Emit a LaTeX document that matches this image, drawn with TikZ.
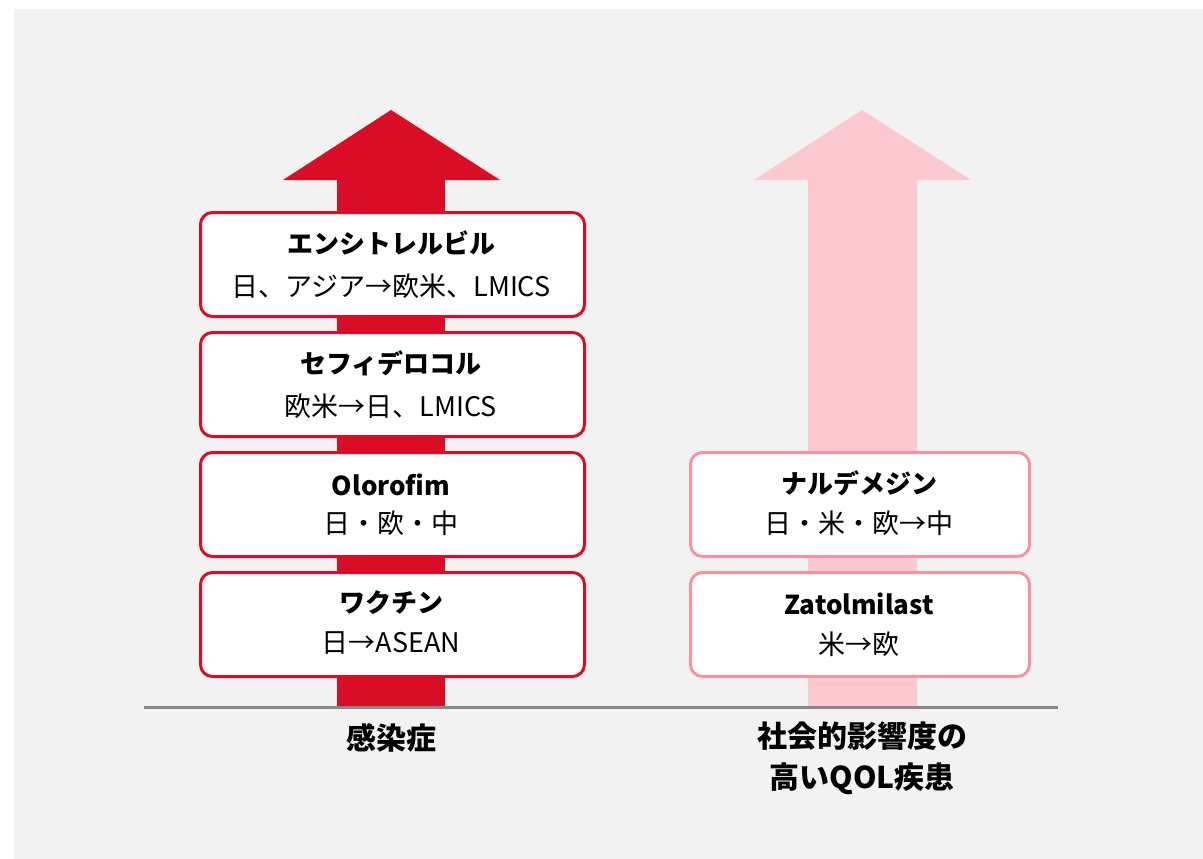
\documentclass[tikz,border=0pt]{standalone}
\usepackage{fontspec}
\setmainfont{Noto Sans CJK JP}
\definecolor{bg}{HTML}{F2F2F2}
\definecolor{rd}{HTML}{D90D26}
\definecolor{pkfill}{HTML}{FDC9D1}
\definecolor{pkline}{HTML}{F5939F}
\definecolor{axis}{HTML}{888888}
\begin{document}
\begin{tikzpicture}[x=1pt,y=-1pt,
  box/.style={draw, line width=3pt, fill=white, rounded corners=12pt, minimum width=384pt, minimum height=104pt, anchor=north west, inner sep=0pt},
  redbox/.style={box, draw=rd},
  pinkbox/.style={box, draw=pkline, minimum width=339pt},
  ttl/.style={font=\fontsize{26}{30}\selectfont\bfseries},
  sub/.style={font=\fontsize{27}{30}\selectfont},
  lbl/.style={font=\fontsize{30}{41}\selectfont\bfseries, align=center}]
\useasboundingbox (0,0) rectangle (1203,859);
\fill[white] (0,0) rectangle (1203,859);
\fill[bg] (14,9) rectangle (1203,859);
% arrows
\fill[rd] (337,707) -- (337,180) -- (283,180) -- (391,110) -- (500,180) -- (445,180) -- (445,707) -- cycle;
\fill[pkfill] (808,707) -- (808,180) -- (754,180) -- (862,110) -- (971,180) -- (917,180) -- (917,707) -- cycle;
% axis
\coordinate (axL) at (144,707);
\coordinate (axR) at (1058,707);
\draw[axis, line width=3pt] (axL) -- (axR);
% red boxes
\node[redbox] (b1) at (199,211) {};
\node[ttl] (b1t) at (391,243) {エンシトレルビル};
\node[sub] (b1s) at (391,286) {日、アジア→欧米、LMICS};
\node[redbox] (b2) at (199,331) {};
\node[ttl] (b2t) at (391,363) {セフィデロコル};
\node[sub] (b2s) at (391,406) {欧米→日、LMICS};
\node[redbox] (b3) at (199,451) {};
\node[ttl] (b3t) at (391,485) {Olorofim};
\node[sub] (b3s) at (391,523) {日・欧・中};
\node[redbox] (b4) at (199,571) {};
\node[ttl] (b4t) at (391,603) {ワクチン};
\node[sub] (b4s) at (391,643) {日→ASEAN};
% pink boxes
\node[pinkbox] (p1) at (689,451) {};
\node[ttl] (p1t) at (859,483) {ナルデメジン};
\node[sub] (p1s) at (859,523) {日・米・欧→中};
\node[pinkbox] (p2) at (689,571) {};
\node[ttl] (p2t) at (859,604) {Zatolmilast};
\node[sub] (p2s) at (859,644) {米→欧};
% labels
\node[lbl] (l1) at (391,738) {感染症};
\node[lbl] (l2) at (862,758) {社会的影響度の\\高いQOL疾患};
\end{tikzpicture}
\end{document}
